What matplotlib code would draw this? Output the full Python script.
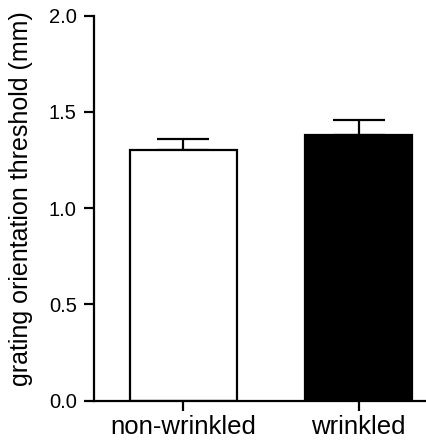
import matplotlib
matplotlib.use("Agg")
import matplotlib.pyplot as plt

categories = ["non-wrinkled", "wrinkled"]
means = [1.302, 1.380]
errors = [0.059, 0.077]
colors = ["white", "black"]
yticks = [0.0, 0.5, 1.0, 1.5, 2.0]
ytick_labels = ["0.0", "0.5", "1.0", "1.5", "2.0"]

plt.rcParams['font.family'] = ['Liberation Sans', 'DejaVu Sans']

W, H = 426, 444
fig = plt.figure(figsize=(W / 100, H / 100), dpi=100)
left_px, right_px, top_px, bot_px = 94, 426, 15.7, 400.7
ax = fig.add_axes([left_px / W, 1 - bot_px / H, (right_px - left_px) / W, (bot_px - top_px) / H])

lw = 1.6
x = list(range(len(categories)))
ax.bar(x, means, width=0.61, color=colors, edgecolor="black", linewidth=lw, zorder=2)
for xi, m, e in zip(x, means, errors):
    ax.errorbar(xi, m, yerr=[[0], [e]], fmt="none", ecolor="black", elinewidth=lw,
                capsize=19, capthick=lw, zorder=1)

ax.set_ylim(0, 2.0)
ax.set_xlim(-0.51, 1.384)
ax.set_yticks(yticks)
ax.set_yticklabels(ytick_labels, fontsize=14.5)
ax.set_xticks(x)
ax.set_xticklabels(categories, fontsize=18.5)
ax.set_ylabel("grating orientation threshold (mm)", fontsize=18)
ax.yaxis.set_label_coords(-0.184, 0.525)

for s in ["top", "right"]:
    ax.spines[s].set_visible(False)
for s in ["left", "bottom"]:
    ax.spines[s].set_linewidth(lw)
ax.tick_params(axis="both", width=lw, length=7.5, color="black")
ax.tick_params(axis="x", pad=3)
ax.tick_params(axis="y", pad=5)

fig.savefig("out.png", dpi=100)
